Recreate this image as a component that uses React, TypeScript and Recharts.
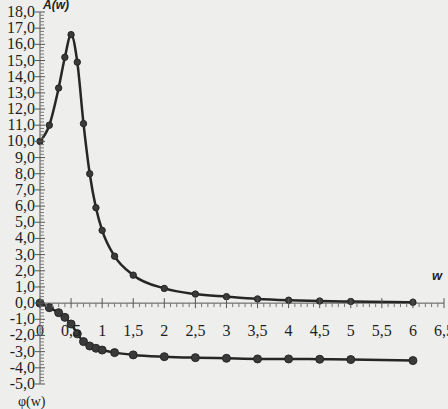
import React from 'react';
import { LineChart, Line, XAxis, YAxis, ReferenceLine } from 'recharts';

const wValues = [0, 0.15, 0.3, 0.4, 0.5, 0.6, 0.7, 0.8, 0.9, 1.0, 1.2, 1.5, 2, 2.5, 3, 3.5, 4, 4.5, 5, 6];
const amplitude = [10.0, 11.0, 13.3, 15.2, 16.6, 14.9, 11.1, 8.0, 5.9, 4.5, 2.9, 1.73, 0.91, 0.56, 0.4, 0.26, 0.18, 0.13, 0.1, 0.05];
const phase = [0, -0.28, -0.59, -0.88, -1.29, -1.9, -2.38, -2.65, -2.79, -2.9, -3.06, -3.2, -3.31, -3.37, -3.41, -3.45, -3.45, -3.47, -3.49, -3.55];

const yMin = -5;
const yMax = 18;

const data = wValues.map((w, i) => ({ w, A: amplitude[i], phi: phase[i] }));

// minor ticks every 0.2 on y, every 0.1 on x
const yTicks: number[] = [];
for (let i = yMin * 5; i <= yMax * 5; i++) yTicks.push(i / 5);
const xMinor: number[] = [];
for (let i = 0; i <= 65; i++) xMinor.push(i / 10);

const W = 448;
const H = 409;
const TOP = 12;
const BOTTOM = 25;
const LEFT = 40;
const RIGHT = 4;
const plotH = H - TOP - BOTTOM;
const zeroY = TOP + (plotH * yMax) / (yMax - yMin);

const serif = "'Liberation Serif', 'DejaVu Serif', 'Times New Roman', serif";
const fmt = (v: number) => v.toFixed(1).replace('.', ',');
const fmtX = (v: number) => String(v).replace('.', ',');

const YTick = (props: any) => {
  const { y, payload } = props;
  const v = payload.value;
  const major = Math.abs(v - Math.round(v)) < 1e-6;
  return (
    <g>
      {major ? (
        <>
          <line x1={LEFT - 5} x2={LEFT + 5} y1={y} y2={y} stroke="#555" strokeWidth={1} />
          <text x={LEFT - 5} y={y + 5} textAnchor="end" style={{ fontSize: 16, fontFamily: serif }} fill="#1e1e1e">
            {fmt(v)}
          </text>
        </>
      ) : (
        <line x1={LEFT} x2={LEFT + 4} y1={y} y2={y} stroke="#777" strokeWidth={1} />
      )}
    </g>
  );
};

const XTick = (props: any) => {
  const { x, payload } = props;
  const v = payload.value;
  const major = Math.abs(v * 2 - Math.round(v * 2)) < 1e-6;
  return (
    <g>
      {major ? (
        <>
          <line x1={x} x2={x} y1={zeroY - 5} y2={zeroY + 5} stroke="#555" strokeWidth={1} />
          <text x={x} y={zeroY + 33} textAnchor="middle" style={{ fontSize: 16, fontFamily: serif }} fill="#1e1e1e">
            {fmtX(v)}
          </text>
        </>
      ) : (
        <line x1={x} x2={x} y1={zeroY} y2={zeroY + 4} stroke="#777" strokeWidth={1} />
      )}
    </g>
  );
};

export default function App() {
  return (
    <div style={{ position: 'absolute', left: 0, top: 0, width: W, height: H, background: '#eeeeec', overflow: 'hidden' }}>
      <LineChart width={W} height={H} data={data} margin={{ top: TOP, right: RIGHT, bottom: 0, left: 0 }}>
        <XAxis
          dataKey="w"
          type="number"
          domain={[0, 6.5]}
          ticks={xMinor}
          interval={0}
          axisLine={false}
          tickLine={false}
          height={BOTTOM}
          tick={<XTick />}
        />
        <YAxis
          type="number"
          domain={[yMin, yMax]}
          ticks={yTicks}
          interval={0}
          width={LEFT}
          axisLine={{ stroke: '#555', strokeWidth: 1 }}
          tickLine={false}
          tick={<YTick />}
        />
        <ReferenceLine y={0} stroke="#555" strokeWidth={1} />
        <Line
          dataKey="A"
          type="monotone"
          stroke="#262626"
          strokeWidth={2.5}
          dot={{ r: 3.2, fill: '#3a3a3a', stroke: '#262626', strokeWidth: 1 }}
          isAnimationActive={false}
        />
        <Line
          dataKey="phi"
          type="monotone"
          stroke="#262626"
          strokeWidth={2.5}
          dot={{ r: 4, fill: '#3a3a3a', stroke: '#262626', strokeWidth: 1 }}
          isAnimationActive={false}
        />
      </LineChart>
      <span style={{ position: 'absolute', left: 43, top: -2, font: 'italic bold 12px "Liberation Sans"', color: '#222' }}>A(w)</span>
      <span style={{ position: 'absolute', left: 432, top: 268, font: 'italic bold 13px "Liberation Sans"', color: '#222' }}>w</span>
      <span style={{ position: 'absolute', left: 18, top: 394, fontSize: 14, fontFamily: serif, color: '#222' }}>φ(w)</span>
    </div>
  );
}
